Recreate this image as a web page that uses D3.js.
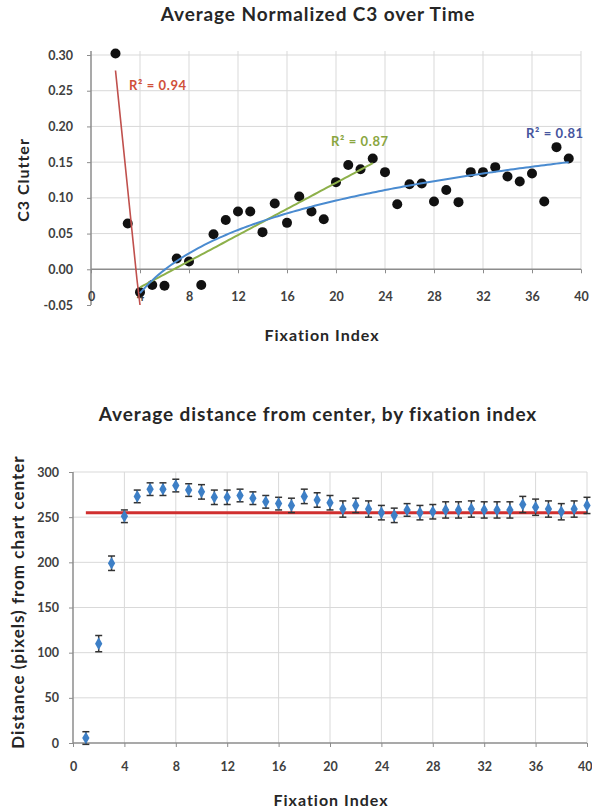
<!DOCTYPE html>
<html lang="en">
<head>
<meta charset="utf-8">
<title>C3 clutter and distance by fixation index</title>
<script src="https://d3js.org/d3.v7.min.js" charset="utf-8"></script>
<style>
  body { margin: 0; background: #fff; }
  svg text { font-family: Lato, "Open Sans", sans-serif; font-weight: bold; fill: #404040; }
  .title { font-size: 19px; letter-spacing: 0.9px; fill: #262626; }
  .axis-label { font-size: 16px; letter-spacing: 1px; fill: #262626; }
  .tick text { font-size: 12.5px; }
  .grid line { stroke: #d9d9d9; stroke-width: 1; }
</style>
</head>
<body>
<svg class="canvas"></svg>
<script type="text/javascript">

// ---- top chart: average normalized C3 ----
var c3Index = [2, 3, 4, 5, 6, 7, 8, 9, 10, 11, 12, 13, 14, 15, 16, 17, 18, 19, 20, 21,
               22, 23, 24, 25, 26, 27, 28, 29, 30, 31, 32, 33, 34, 35, 36, 37, 38, 39];
var c3Values = [0.302, 0.064, -0.032, -0.022, -0.023, 0.015, 0.011, -0.022, 0.049, 0.069,
                0.081, 0.081, 0.052, 0.092, 0.065, 0.102, 0.081, 0.070, 0.122, 0.146,
                0.140, 0.155, 0.136, 0.091, 0.119, 0.120, 0.095, 0.111, 0.094, 0.136,
                0.136, 0.143, 0.130, 0.123, 0.134, 0.095, 0.171, 0.155];
var c3Ticks = [-0.05, 0, 0.05, 0.10, 0.15, 0.20, 0.25, 0.30];
var xTicks = [0, 4, 8, 12, 16, 20, 24, 28, 32, 36, 40];

// trend lines: fit type, first and last fixation index used
var trendTypes = ['linear', 'linear', 'log'];
var trendFrom = [2, 4, 4];
var trendTo = [4, 23, 39];
var trendColors = ['#c0504d', '#8db04a', '#4a8bd0'];
var trendLabels = ['R² = 0.94', 'R² = 0.87', 'R² = 0.81'];
var trendLabelColors = ['#d0503a', '#8aa63f', '#46559e'];

// ---- bottom chart: distance from center ----
var distIndex = [1, 2, 3, 4, 5, 6, 7, 8, 9, 10, 11, 12, 13, 14, 15, 16, 17, 18, 19, 20,
                 21, 22, 23, 24, 25, 26, 27, 28, 29, 30, 31, 32, 33, 34, 35, 36, 37, 38, 39, 40];
var distValues = [5.5, 110, 199, 251, 273, 281, 281, 285, 280, 278,
                  272, 272, 274, 271, 267, 265, 263, 273, 269, 266,
                  259, 263, 259, 255, 252, 258, 255, 256, 258, 258,
                  259, 258, 258, 258, 264, 261, 259, 256, 259, 263];
var distErrors = [7, 9, 8, 7, 7, 7, 7, 7, 7, 8,
                  8, 8, 7, 7, 7, 7, 8, 8, 8, 8,
                  9, 8, 9, 8, 8, 7, 8, 8, 9, 9,
                  9, 9, 9, 9, 9, 9, 9, 9, 9, 9];
var distTicks = [0, 50, 100, 150, 200, 250, 300];
var distMean = 255;
var distMeanFrom = 1, distMeanTo = 40;

(function () {

var width = 592, height = 810;
var svg = d3.select('.canvas').attr('width', width).attr('height', height);

function fit(type, xs, ys) {
  var tx = xs.map(function(x) { return type === 'log' ? Math.log(x) : x; });
  var mx = d3.mean(tx), my = d3.mean(ys);
  var sxy = 0, sxx = 0;
  for (var i = 0; i < tx.length; i++) {
    sxy += (tx[i] - mx) * (ys[i] - my);
    sxx += (tx[i] - mx) * (tx[i] - mx);
  }
  var b = sxy / sxx, a = my - b * mx;
  return function(x) { return a + b * (type === 'log' ? Math.log(x) : x); };
}

function styleAxis(ax) {
  ax.select('.domain').attr('stroke', '#8c8c8c').attr('stroke-width', 1.5);
  ax.selectAll('.tick line').attr('stroke', '#8c8c8c');
}

// ================= top chart =================
var x1 = d3.scaleLinear().domain([0, 40]).range([91, 581]);
var y1 = d3.scaleLinear().domain([-0.05, 0.30]).range([305, 55]);

var chart1 = svg.append('g');

chart1.append('g').attr('class', 'grid').selectAll('line')
  .data(c3Ticks.filter(function(d) { return d > 0; }))
  .enter().append('line')
  .attr('x1', x1(0)).attr('x2', x1(40))
  .attr('y1', function(d) { return y1(d); }).attr('y2', function(d) { return y1(d); });

chart1.append('g').attr('class', 'grid').selectAll('line')
  .data(xTicks.filter(function(d) { return d > 0; }))
  .enter().append('line')
  .attr('x1', function(d) { return x1(d); }).attr('x2', function(d) { return x1(d); })
  .attr('y1', y1(0.30) - 4).attr('y2', y1(0));

var yAxis1 = chart1.append('g')
  .attr('transform', 'translate(' + x1(0) + ',0)')
  .call(d3.axisLeft(y1).tickValues(c3Ticks).tickSize(4).tickPadding(14)
    .tickFormat(function(d) { return d.toFixed(2); }));

var xAxis1 = chart1.append('g')
  .attr('transform', 'translate(0,' + y1(0) + ')')
  .call(d3.axisBottom(x1).tickValues(xTicks).tickSize(4).tickFormat(d3.format('d')));
xAxis1.selectAll('text').attr('y', 23);

styleAxis(yAxis1);
styleAxis(xAxis1);
yAxis1.select('.domain').attr('d', 'M0,' + (y1(0.30) - 4) + 'V' + y1(-0.05));
xAxis1.select('.domain').attr('d', 'M' + x1(0) + ',0H' + x1(40));

// data points
chart1.append('g').selectAll('circle')
  .data(c3Index)
  .enter().append('circle')
  .attr('cx', function(d) { return x1(d); })
  .attr('cy', function(d, i) { return y1(c3Values[i]); })
  .attr('r', 5)
  .attr('fill', '#111');

// trend lines
trendTypes.forEach(function(type, k) {
  var xs = [], ys = [];
  c3Index.forEach(function(d, i) {
    if (d >= trendFrom[k] && d <= trendTo[k]) { xs.push(d); ys.push(c3Values[i]); }
  });
  var f = fit(type, xs, ys);
  var pts = d3.range(trendFrom[k], trendTo[k] + 0.001, 0.25).map(function(x) {
    return [x, Math.max(-0.05, f(x))];
  });
  chart1.append('path')
    .attr('d', d3.line().x(function(p) { return x1(p[0]); }).y(function(p) { return y1(p[1]); })(pts))
    .attr('fill', 'none')
    .attr('stroke', trendColors[k])
    .attr('stroke-width', k === 0 ? 1.6 : 2);
});

var labelPos = [[129, 90], [331, 146], [526, 138]];
trendLabels.forEach(function(t, k) {
  chart1.append('text')
    .attr('x', labelPos[k][0]).attr('y', labelPos[k][1])
    .style('font-size', '13px')
    .style('letter-spacing', '0.6px')
    .style('fill', trendLabelColors[k])
    .text(t);
});

chart1.append('text').attr('class', 'title')
  .attr('x', 318).attr('y', 21).attr('text-anchor', 'middle')
  .text('Average Normalized  C3 over Time');
chart1.append('text').attr('class', 'axis-label')
  .attr('x', 322).attr('y', 341).attr('text-anchor', 'middle')
  .text('Fixation Index');
chart1.append('text').attr('class', 'axis-label')
  .attr('transform', 'translate(29,180) rotate(-90)').attr('text-anchor', 'middle')
  .text('C3 Clutter');

// ================= bottom chart =================
var x2 = d3.scaleLinear().domain([0, 40]).range([73, 587]);
var y2 = d3.scaleLinear().domain([0, 300]).range([743, 472]);

var chart2 = svg.append('g');

chart2.append('g').attr('class', 'grid').selectAll('line')
  .data(distTicks.filter(function(d) { return d > 0; }))
  .enter().append('line')
  .attr('x1', x2(0)).attr('x2', x2(40))
  .attr('y1', function(d) { return y2(d); }).attr('y2', function(d) { return y2(d); });

chart2.append('g').attr('class', 'grid').selectAll('line')
  .data(xTicks.filter(function(d) { return d > 0; }))
  .enter().append('line')
  .attr('x1', function(d) { return x2(d); }).attr('x2', function(d) { return x2(d); })
  .attr('y1', y2(300)).attr('y2', y2(0));

var yAxis2 = chart2.append('g')
  .attr('transform', 'translate(' + x2(0) + ',0)')
  .call(d3.axisLeft(y2).tickValues(distTicks).tickSize(4).tickPadding(10));
var xAxis2 = chart2.append('g')
  .attr('transform', 'translate(0,' + y2(0) + ')')
  .call(d3.axisBottom(x2).tickValues(xTicks).tickSize(4).tickPadding(15));
styleAxis(yAxis2);
styleAxis(xAxis2);
yAxis2.select('.domain').attr('d', 'M0,' + y2(300) + 'V' + y2(0));
xAxis2.select('.domain').attr('d', 'M' + x2(0) + ',0H' + x2(40));
// last label sits at the page edge, keep it inside
xAxis2.selectAll('.tick text').filter(function(d) { return d === 40; })
  .attr('text-anchor', 'end').attr('dx', 5);

// mean line
chart2.append('line')
  .attr('x1', x2(distMeanFrom)).attr('x2', x2(distMeanTo))
  .attr('y1', y2(distMean)).attr('y2', y2(distMean))
  .attr('stroke', '#d02f2f').attr('stroke-width', 3);

// error bars
var eb = chart2.append('g').selectAll('g')
  .data(distIndex)
  .enter().append('g')
  .attr('stroke', '#333').attr('stroke-width', 1.5);
eb.append('line')
  .attr('x1', function(d) { return x2(d); }).attr('x2', function(d) { return x2(d); })
  .attr('y1', function(d, i) { return y2(distValues[i] + distErrors[i]); })
  .attr('y2', function(d, i) { return y2(distValues[i] - distErrors[i]); });
[1, -1].forEach(function(s) {
  eb.append('line')
    .attr('x1', function(d) { return x2(d) - 3.5; }).attr('x2', function(d) { return x2(d) + 3.5; })
    .attr('y1', function(d, i) { return y2(distValues[i] + s * distErrors[i]); })
    .attr('y2', function(d, i) { return y2(distValues[i] + s * distErrors[i]); });
});

chart2.append('g').selectAll('path')
  .data(distIndex)
  .enter().append('path')
  .attr('d', d3.symbol().type(d3.symbolDiamond).size(46))
  .attr('transform', function(d, i) { return 'translate(' + x2(d) + ',' + y2(distValues[i]) + ')'; })
  .attr('fill', '#3d7fc6');

chart2.append('text').attr('class', 'title')
  .attr('x', 318).attr('y', 421).attr('text-anchor', 'middle')
  .text('Average distance from center, by fixation index');
chart2.append('text').attr('class', 'axis-label')
  .attr('x', 331).attr('y', 806).attr('text-anchor', 'middle')
  .text('Fixation Index');
chart2.append('text').attr('class', 'axis-label')
  .attr('transform', 'translate(24,602) rotate(-90)').attr('text-anchor', 'middle')
  .style('font-size', '17px')
  .text('Distance (pixels) from chart center');

})();

</script>
</body>
</html>
